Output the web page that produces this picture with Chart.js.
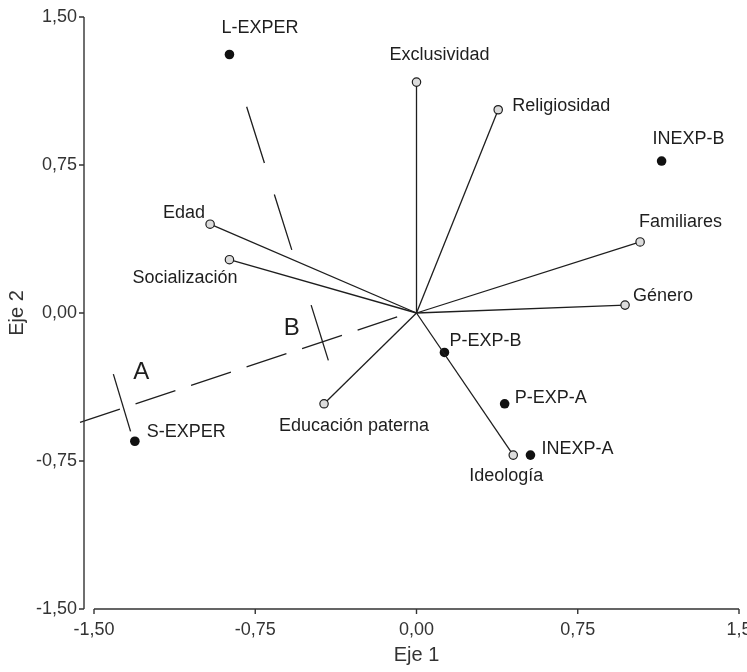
<!DOCTYPE html>
<html>
<head>
<meta charset="utf-8">
<script src="https://cdn.jsdelivr.net/npm/chart.js@4.4.1/dist/chart.umd.min.js"></script>
<style>
  html, body { margin: 0; padding: 0; background: #fff; }
  #wrap { width: 747px; height: 672px; }
</style>
</head>
<body>
<div id="wrap"><canvas id="biplot"></canvas></div>
<script>
// variables (vectors from the origin)
const variableNames = ['Exclusividad', 'Religiosidad', 'Familiares', 'Género', 'Ideología', 'Educación paterna', 'Socialización', 'Edad'];
const variableX = [0.00, 0.38, 1.04, 0.97, 0.45, -0.43, -0.87, -0.96];
const variableY = [1.17, 1.03, 0.36, 0.04, -0.72, -0.46, 0.27, 0.45];

// groups (filled points)
const groupNames = ['L-EXPER', 'INEXP-B', 'P-EXP-B', 'P-EXP-A', 'INEXP-A', 'S-EXPER'];
const groupX = [-0.87, 1.14, 0.13, 0.41, 0.53, -1.31];
const groupY = [1.31, 0.77, -0.20, -0.46, -0.72, -0.65];

// dashed separators
const longDashX = [-1.565, -0.09];
const longDashY = [-0.554, -0.02];
const upperDashX = [-0.79, -0.58];
const upperDashY = [1.045, 0.32];

// short cross marks on the long separator, with their letters
const markNames = ['A', 'B'];
const markStartX = [-1.41, -0.49];
const markStartY = [-0.31, 0.04];
const markEndX = [-1.33, -0.41];
const markEndY = [-0.60, -0.24];
const markLabelX = [-1.28, -0.58];
const markLabelY = [-0.30, -0.08];

// axes
const tickValues = [-1.5, -0.75, 0, 0.75, 1.5];
const xTickLabels = ['-1,50', '-0,75', '0,00', '0,75', '1,5'];
const yTickLabels = ['-1,50', '-0,75', '0,00', '0,75', '1,50'];

const FONT = '"Liberation Sans", Arial, Helvetica, sans-serif';
const INK = '#1e1e1e';

// where each text sits relative to its point: [align, dx, dy]
const labelPlacement = {
  'Exclusividad': ['center', 23, -27],
  'Religiosidad': ['left', 14, -4],
  'Familiares': ['left', -1, -20],
  'Género': ['left', 8, -9],
  'Ideología': ['center', -7, 21],
  'Educación paterna': ['center', 30, 22],
  'Socialización': ['right', 8, 18],
  'Edad': ['right', -5, -11],
  'L-EXPER': ['left', -8, -26],
  'INEXP-B': ['left', -9, -22],
  'P-EXP-B': ['left', 5, -11],
  'P-EXP-A': ['left', 10, -6],
  'INEXP-A': ['left', 11, -6],
  'S-EXPER': ['left', 12, -9]
};

const datasets = [];

variableNames.forEach((name, i) => {
  datasets.push({
    label: name,
    data: [{ x: 0, y: 0 }, { x: variableX[i], y: variableY[i] }],
    showLine: true,
    borderColor: INK,
    borderWidth: 1.3,
    pointRadius: [0, 4.2],
    pointBackgroundColor: '#dcdcdc',
    pointBorderColor: INK,
    pointBorderWidth: 1.2
  });
});

datasets.push({
  label: 'grupos',
  data: groupX.map((x, i) => ({ x, y: groupY[i] })),
  pointRadius: 4.8,
  pointBackgroundColor: '#111',
  pointBorderColor: '#111',
  pointBorderWidth: 0
});

datasets.push({
  label: 'separador largo',
  data: longDashX.map((x, i) => ({ x, y: longDashY[i] })),
  showLine: true,
  borderColor: INK,
  borderWidth: 1.3,
  borderDash: [42, 16.5],
  pointRadius: 0,
  clip: false
});

datasets.push({
  label: 'separador corto',
  data: upperDashX.map((x, i) => ({ x, y: upperDashY[i] })),
  showLine: true,
  borderColor: INK,
  borderWidth: 1.3,
  borderDash: [59, 33],
  pointRadius: 0,
  clip: false
});

markNames.forEach((name, i) => {
  datasets.push({
    label: 'marca ' + name,
    data: [{ x: markStartX[i], y: markStartY[i] }, { x: markEndX[i], y: markEndY[i] }],
    showLine: true,
    borderColor: INK,
    borderWidth: 1.3,
    pointRadius: 0,
    clip: false
  });
});

// axis lines drawn apart from each other, y axis pushed 10px left
const axisLines = {
  id: 'axisLines',
  afterDraw(chart) {
    const { ctx, scales: { x, y } } = chart;
    const yAxisX = x.getPixelForValue(-1.5) - 10;
    const xAxisY = y.getPixelForValue(-1.5);
    ctx.save();
    ctx.strokeStyle = '#333';
    ctx.lineWidth = 1.4;
    ctx.beginPath();
    ctx.moveTo(yAxisX, y.getPixelForValue(1.5));
    ctx.lineTo(yAxisX, y.getPixelForValue(-1.5));
    tickValues.forEach(v => {
      const py = y.getPixelForValue(v);
      ctx.moveTo(yAxisX, py);
      ctx.lineTo(yAxisX - 5, py);
    });
    ctx.moveTo(x.getPixelForValue(-1.5), xAxisY);
    ctx.lineTo(x.getPixelForValue(1.5), xAxisY);
    tickValues.forEach(v => {
      const px = x.getPixelForValue(v);
      ctx.moveTo(px, xAxisY);
      ctx.lineTo(px, xAxisY + 5);
    });
    ctx.stroke();
    ctx.restore();
  }
};

// names next to points, plus the A / B letters
const pointLabels = {
  id: 'pointLabels',
  afterDatasetsDraw(chart) {
    const { ctx, scales: { x, y } } = chart;
    ctx.save();
    ctx.fillStyle = INK;
    ctx.textBaseline = 'middle';
    ctx.font = '18px ' + FONT;
    const put = (name, vx, vy) => {
      const [align, dx, dy] = labelPlacement[name];
      ctx.textAlign = align;
      ctx.fillText(name, x.getPixelForValue(vx) + dx, y.getPixelForValue(vy) + dy);
    };
    variableNames.forEach((n, i) => put(n, variableX[i], variableY[i]));
    groupNames.forEach((n, i) => put(n, groupX[i], groupY[i]));
    ctx.font = '24px ' + FONT;
    ctx.textAlign = 'center';
    markNames.forEach((n, i) => {
      ctx.fillText(n, x.getPixelForValue(markLabelX[i]), y.getPixelForValue(markLabelY[i]));
    });
    ctx.restore();
  }
};

new Chart(document.getElementById('biplot'), {
  type: 'scatter',
  data: { datasets },
  options: {
    responsive: true,
    maintainAspectRatio: false,
    animation: false,
    layout: { padding: { top: 17, right: 8, bottom: 0, left: 0 } },
    plugins: {
      legend: { display: false },
      tooltip: { enabled: false }
    },
    scales: {
      x: {
        min: -1.5,
        max: 1.5,
        grid: { display: false, drawTicks: false },
        border: { display: false },
        afterBuildTicks: s => { s.ticks = tickValues.map(v => ({ value: v })); },
        afterFit: s => { s.height = 63; s.paddingRight = 0; s.paddingLeft = 0; },
        ticks: {
          padding: 10,
          color: '#333',
          font: { family: FONT, size: 18 },
          maxRotation: 0,
          callback: (v) => xTickLabels[tickValues.indexOf(v)]
        },
        title: {
          display: true,
          text: 'Eje 1',
          color: '#333',
          font: { family: FONT, size: 20 },
          padding: { top: 0, bottom: 5 }
        }
      },
      y: {
        min: -1.5,
        max: 1.5,
        grid: { display: false, drawTicks: false },
        border: { display: false },
        afterBuildTicks: s => { s.ticks = tickValues.map(v => ({ value: v })); },
        afterFit: s => { s.width = 94; s.paddingTop = 0; s.paddingBottom = 0; },
        ticks: {
          padding: 17,
          color: '#333',
          font: { family: FONT, size: 18 },
          callback: (v) => yTickLabels[tickValues.indexOf(v)]
        },
        title: {
          display: true,
          text: 'Eje 2',
          color: '#333',
          font: { family: FONT, size: 20 },
          padding: { top: 5, bottom: 0 }
        }
      }
    }
  },
  plugins: [axisLines, pointLabels]
});
</script>
</body>
</html>
